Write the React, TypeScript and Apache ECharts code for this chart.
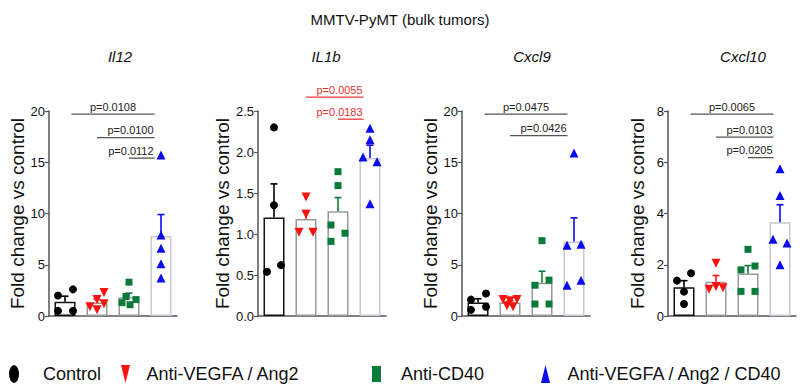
import React, { useEffect, useRef } from 'react';
import * as echarts from 'echarts';

// ---------- data ----------
const groups = ['Control', 'Anti-VEGFA / Ang2', 'Anti-CD40', 'Anti-VEGFA / Ang2 / CD40'];
const panelTitles = ['Il12', 'IL1b', 'Cxcl9', 'Cxcl10'];
const mainTitle = 'MMTV-PyMT (bulk tumors)';
const yAxisName = 'Fold change vs control';

// Il12
const il12Control = [2.0, 2.6, 0.5, 0.5];
const il12VegfaAng2 = [0.9, 1.6, 2.3, 1.2, 0.6];
const il12CD40 = [3.3, 1.9, 1.3, 1.6, 1.1];
const il12Combo = [15.7, 7.9, 6.6, 5.1, 3.7];
// IL1b
const il1bControl = [2.3, 1.35, 0.54, 0.62];
const il1bVegfaAng2 = [1.45, 1.24, 1.02, 1.02];
const il1bCD40 = [1.76, 1.59, 1.11, 0.91, 1.01];
const il1bCombo = [2.29, 2.15, 1.94, 1.88, 1.37];
// Cxcl9
const cxcl9Control = [1.6, 2.2, 0.6, 0.9];
const cxcl9VegfaAng2 = [1.6, 1.6, 1.5, 1.0, 0.9];
const cxcl9CD40 = [7.35, 3.0, 3.5, 1.17, 1.17];
const cxcl9Combo = [15.9, 6.9, 7.0, 3.0, 3.5];
// Cxcl10
const cxcl10Control = [1.38, 1.67, 0.95, 0.47];
const cxcl10VegfaAng2 = [2.06, 1.04, 1.15, 1.1];
const cxcl10CD40 = [2.6, 1.8, 1.95, 0.96, 0.96];
const cxcl10Combo = [5.75, 4.7, 3.0, 2.85, 2.0];

// y axis scales
const yMax = [20, 2.5, 20, 8];
const yInterval = [5, 0.5, 5, 2];
const yDecimals = [0, 1, 0, 0];

// significance annotations (group compared with the combination group)
const il12PFrom = [0, 1, 2];
const il12PLevel = [19.7, 17.4, 15.4];
const il12PText = ['p=0.0108', 'p=0.0100', 'p=0.0112'];
const il1bPFrom = [1, 2];
const il1bPLevel = [2.67, 2.4];
const il1bPText = ['p=0.0055', 'p=0.0183'];
const cxcl9PFrom = [0, 1];
const cxcl9PLevel = [19.7, 17.6];
const cxcl9PText = ['p=0.0475', 'p=0.0426'];
const cxcl10PFrom = [0, 1, 2];
const cxcl10PLevel = [7.88, 6.98, 6.18];
const cxcl10PText = ['p=0.0065', 'p=0.0103', 'p=0.0205'];

// ---------- layout / style ----------
const FONT = "'Liberation Sans', Arial, sans-serif";
const colors = ['#000000', '#ff1010', '#0b7a3b', '#0a0af0'];
const barBorders = ['#111111', '#9a9a9a', '#9a9a9a', '#c8c8d4'];
const gridLefts = [49, 258, 462, 668];
const gridWidth = 128;
const gridTop = 111;
const gridHeight = 205;
const nameGaps = [22, 17, 20, 21];
const titleXs = [115, 321, 527, 738];
const annotColors = ['#555555', '#ee3a3a', '#555555', '#555555'];

// jitter of individual points inside a bar (pixels)
const jitterIl12 = [[-7, 8, -7, 8], [-7, 0, 7, 7, 0], [0, -3, -7, 7, 1], [0, 0, 0, 0, 0]];
const jitterIl1b = [[0, 0, -7, 7], [0, 0, -7, 7], [0, 0, -7, -7, 7], [0, 0, -7, 7, 0]];
const jitterCxcl9 = [[-7, 8, -7, 8], [-7, 7, 0, -3, 3], [0, -7, 7, -7, 7], [0, -7, 7, -7, 7]];
const jitterCxcl10 = [[-7, 7, 0, 0], [0, -7, 0, 7], [0, -7, 7, -7, 7], [0, 0, -7, 7, 0]];

const symbols = ['circle', 'triangle', 'rect', 'triangle'];
const symbolRotates = [0, 180, 0, 0];
const symbolSizes: any[] = [8, [9, 9], 7, [9, 9]];

const legendIcons = [
  'path://M5,0 A5,9 0 1,1 5,18 A5,9 0 1,1 5,0 Z',
  'path://M0,0 L10,0 L5,20 Z',
  'path://M0,0 L10,0 L10,18 L0,18 Z',
  'path://M5,0 L10,20 L0,20 Z',
];
const legendLefts = [4, 116, 367, 536];
const legendTextPad = [19, 11, 15, 12];

const panels = [
  { groups: [il12Control, il12VegfaAng2, il12CD40, il12Combo], jitter: jitterIl12, pFrom: il12PFrom, pLevel: il12PLevel, pText: il12PText },
  { groups: [il1bControl, il1bVegfaAng2, il1bCD40, il1bCombo], jitter: jitterIl1b, pFrom: il1bPFrom, pLevel: il1bPLevel, pText: il1bPText },
  { groups: [cxcl9Control, cxcl9VegfaAng2, cxcl9CD40, cxcl9Combo], jitter: jitterCxcl9, pFrom: cxcl9PFrom, pLevel: cxcl9PLevel, pText: cxcl9PText },
  { groups: [cxcl10Control, cxcl10VegfaAng2, cxcl10CD40, cxcl10Combo], jitter: jitterCxcl10, pFrom: cxcl10PFrom, pLevel: cxcl10PLevel, pText: cxcl10PText },
];

const mean = (a: number[]) => a.reduce((s, v) => s + v, 0) / a.length;
const sem = (a: number[]) => {
  const m = mean(a);
  const v = a.reduce((s, x) => s + (x - m) * (x - m), 0) / (a.length - 1);
  return Math.sqrt(v) / Math.sqrt(a.length);
};

function buildOption() {
  const grid: any[] = [];
  const xAxis: any[] = [];
  const yAxis: any[] = [];
  const series: any[] = [];
  const title: any[] = [
    { text: mainTitle, left: 'center', top: 7, textStyle: { fontFamily: FONT, fontSize: 15, fontWeight: 'normal', color: '#111' } },
  ];

  panels.forEach((p, pi) => {
    grid.push({ left: gridLefts[pi], top: gridTop, width: gridWidth, height: gridHeight });
    xAxis.push({
      type: 'category', gridIndex: pi, data: groups,
      axisLine: { lineStyle: { color: '#555', width: 1.5 } },
      axisTick: { show: false }, axisLabel: { show: false }, splitLine: { show: false },
    });
    yAxis.push({
      type: 'value', gridIndex: pi, min: 0, max: yMax[pi], interval: yInterval[pi],
      name: yAxisName, nameLocation: 'middle', nameGap: nameGaps[pi],
      nameTextStyle: { fontFamily: FONT, fontSize: 19, color: '#111' },
      axisLine: { show: true, lineStyle: { color: '#555', width: 1.5 } },
      axisTick: { show: true, length: 4, lineStyle: { color: '#555', width: 1.2 } },
      axisLabel: { fontFamily: FONT, fontSize: 13, color: '#111', margin: 4,
        formatter: (v: number) => v.toFixed(yDecimals[pi]) },
      splitLine: { show: false },
    });
    title.push({
      text: panelTitles[pi], left: titleXs[pi], top: 44, textAlign: 'center',
      textStyle: { fontFamily: FONT, fontSize: 15, fontStyle: 'italic', fontWeight: 'normal', color: '#111' },
    });

    // bars (mean)
    series.push({
      type: 'bar', name: 'mean', xAxisIndex: pi, yAxisIndex: pi, barWidth: 21, z: 1,
      data: p.groups.map((g, gi) => ({
        value: mean(g),
        itemStyle: { color: '#ffffff', borderColor: barBorders[gi], borderWidth: 1.5 },
      })),
    });

    // individual points
    p.groups.forEach((g, gi) => {
      series.push({
        type: 'scatter', name: groups[gi], xAxisIndex: pi, yAxisIndex: pi, z: 3,
        symbol: symbols[gi], symbolRotate: symbolRotates[gi], symbolSize: symbolSizes[gi],
        itemStyle: { color: colors[gi], opacity: 1 },
        data: g.map((v, k) => ({ value: [gi, v], symbolOffset: [p.jitter[gi][k] || 0, 0] })),
      });
    });

    // SEM error bars (upper only)
    series.push({
      type: 'custom', name: 'sem', xAxisIndex: pi, yAxisIndex: pi, z: 4,
      data: p.groups.map((g, gi) => [gi, mean(g), sem(g)]),
      encode: { x: 0, y: 1 },
      renderItem: (params: any, api: any) => {
        const x = api.value(0);
        const m = api.value(1);
        const s = api.value(2);
        const b = api.coord([x, m]);
        const t = api.coord([x, m + s]);
        const c = colors[x];
        return {
          type: 'group',
          children: [
            { type: 'line', shape: { x1: b[0], y1: b[1], x2: t[0], y2: t[1] }, style: { stroke: c, lineWidth: 1.6 } },
            { type: 'line', shape: { x1: t[0] - 3.5, y1: t[1], x2: t[0] + 3.5, y2: t[1] }, style: { stroke: c, lineWidth: 1.6 } },
          ],
        };
      },
    });

    // significance annotations
    series.push({
      type: 'custom', name: 'pvals', xAxisIndex: pi, yAxisIndex: pi, z: 5, clip: false,
      data: p.pFrom.map((f, k) => [f, p.pLevel[k]]),
      encode: { x: 0, y: 1 },
      renderItem: (params: any, api: any) => {
        const k = params.dataIndex;
        const from = p.pFrom[k];
        const lvl = p.pLevel[k];
        const band = api.size([1, 0])[0];
        const a = api.coord([from, lvl]);
        const e = api.coord([3, lvl]);
        const x0 = a[0] + (from === 0 ? 0.2 : 0) * band;
        const x1 = e[0] - 0.2 * band;
        const centered = from === 0;
        const col = annotColors[pi];
        return {
          type: 'group',
          children: [
            { type: 'line', shape: { x1: x0, y1: a[1], x2: x1, y2: a[1] }, style: { stroke: col, lineWidth: 1.3 } },
            {
              type: 'text', x: centered ? (x0 + x1) / 2 : x1 - 1, y: a[1] - 2,
              style: { text: p.pText[k], fill: pi === 1 ? '#e83030' : '#222', fontSize: 11, fontFamily: FONT,
                align: centered ? 'center' : 'right', verticalAlign: 'bottom' },
            },
          ],
        };
      },
    });
  });

  const legend = groups.map((g, gi) => ({
    data: [{ name: g, icon: legendIcons[gi] }],
    left: legendLefts[gi], top: 360,
    itemWidth: gi === 2 ? 9 : 10, itemHeight: 18,
    selectedMode: false,
    textStyle: { fontFamily: FONT, fontSize: 18, color: '#111', padding: [0, 0, 0, legendTextPad[gi]] },
  }));

  return { animation: false, backgroundColor: '#ffffff', title, grid, xAxis, yAxis, series, legend };
}

export default function App() {
  const ref = useRef<HTMLDivElement>(null);
  useEffect(() => {
    if (!ref.current) return;
    const chart = echarts.init(ref.current, undefined, { renderer: 'svg' });
    chart.setOption(buildOption() as any);
    return () => chart.dispose();
  }, []);
  return (
    <div style={{ position: 'absolute', left: 0, top: 0, width: 800, height: 387 }}>
      <div ref={ref} style={{ width: 800, height: 387 }} />
    </div>
  );
}
